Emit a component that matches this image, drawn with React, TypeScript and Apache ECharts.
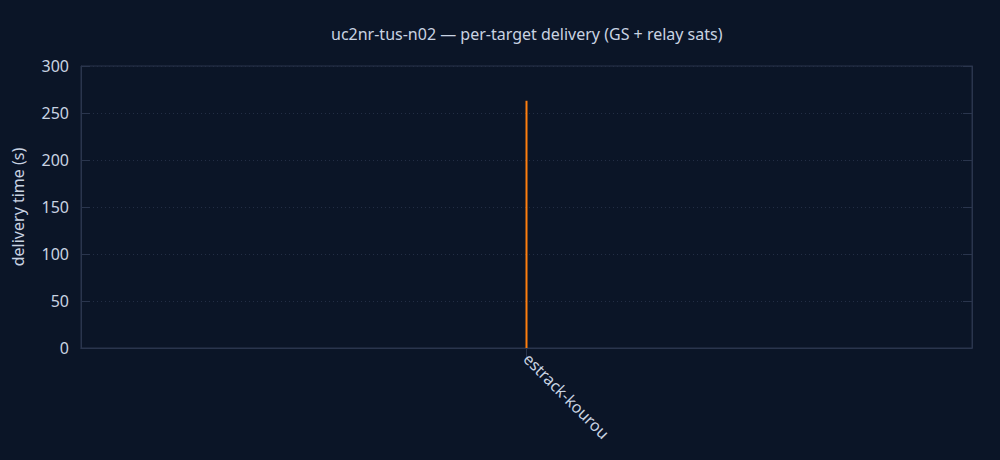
import React, { useEffect, useRef } from "react";
import * as echarts from "echarts";

const categories = ["estrack-kourou"];
const deliveryTimes = [263];
const yTicks = { min: 0, max: 300, interval: 50 };
const titleText = "uc2nr-tus-n02 — per-target delivery (GS + relay sats)";
const yName = "delivery time (s)";

const BG = "#0b1527";
const FRAME = "#2a354d";
const GRIDLINE = "#232e45";
const TEXT = "#c9d3e2";
const BAR = "#ff7f0e";
const FONT = "Noto Sans";

export default function App() {
  const ref = useRef<HTMLDivElement>(null);
  useEffect(() => {
    if (!ref.current) return;
    const chart = echarts.init(ref.current, undefined, { renderer: "svg" });
    const tickStyle = { show: true, inside: true, length: 9, lineStyle: { color: FRAME, width: 1 } };
    chart.setOption({
      animation: false,
      backgroundColor: BG,
      textStyle: { fontFamily: FONT },
      title: {
        text: titleText,
        left: 326,
        top: 21,
        textStyle: { color: TEXT, fontSize: 16, fontWeight: "normal", fontFamily: FONT },
      },
      grid: {
        left: 81,
        right: 28,
        top: 66,
        bottom: 112,
        show: true,
        borderColor: FRAME,
        borderWidth: 1,
        backgroundColor: "transparent",
      },
      xAxis: [
        {
          type: "category",
          data: categories,
          position: "bottom",
          axisLine: { show: true, lineStyle: { color: FRAME } },
          axisTick: { ...tickStyle, alignWithLabel: true },
          axisLabel: { color: TEXT, fontSize: 16, rotate: -45, margin: 8, fontFamily: FONT },
          splitLine: { show: false },
        },
        {
          type: "category",
          data: categories,
          position: "top",
          axisLine: { show: true, lineStyle: { color: FRAME } },
          axisTick: { ...tickStyle, alignWithLabel: true },
          axisLabel: { show: false },
          splitLine: { show: false },
        },
      ],
      yAxis: [
        {
          type: "value",
          min: yTicks.min,
          max: yTicks.max,
          interval: yTicks.interval,
          name: yName,
          nameLocation: "middle",
          nameGap: 55,
          nameTextStyle: { color: TEXT, fontSize: 16, fontFamily: FONT },
          axisLine: { show: true, lineStyle: { color: FRAME } },
          axisTick: tickStyle,
          axisLabel: { color: TEXT, fontSize: 16, margin: 12, fontFamily: FONT },
          splitLine: { show: true, lineStyle: { color: GRIDLINE, type: [1, 3], width: 1 } },
        },
        {
          type: "value",
          position: "right",
          min: yTicks.min,
          max: yTicks.max,
          interval: yTicks.interval,
          axisLine: { show: true, lineStyle: { color: FRAME } },
          axisTick: tickStyle,
          axisLabel: { show: false },
          splitLine: { show: false },
        },
      ],
      series: [
        {
          type: "bar",
          data: deliveryTimes,
          xAxisIndex: 0,
          yAxisIndex: 0,
          barWidth: 2,
          itemStyle: { color: BAR },
        },
      ],
    });
    return () => chart.dispose();
  }, []);
  return (
    <div
      ref={ref}
      style={{ position: "absolute", left: 0, top: 0, width: 1000, height: 460 }}
    />
  );
}
